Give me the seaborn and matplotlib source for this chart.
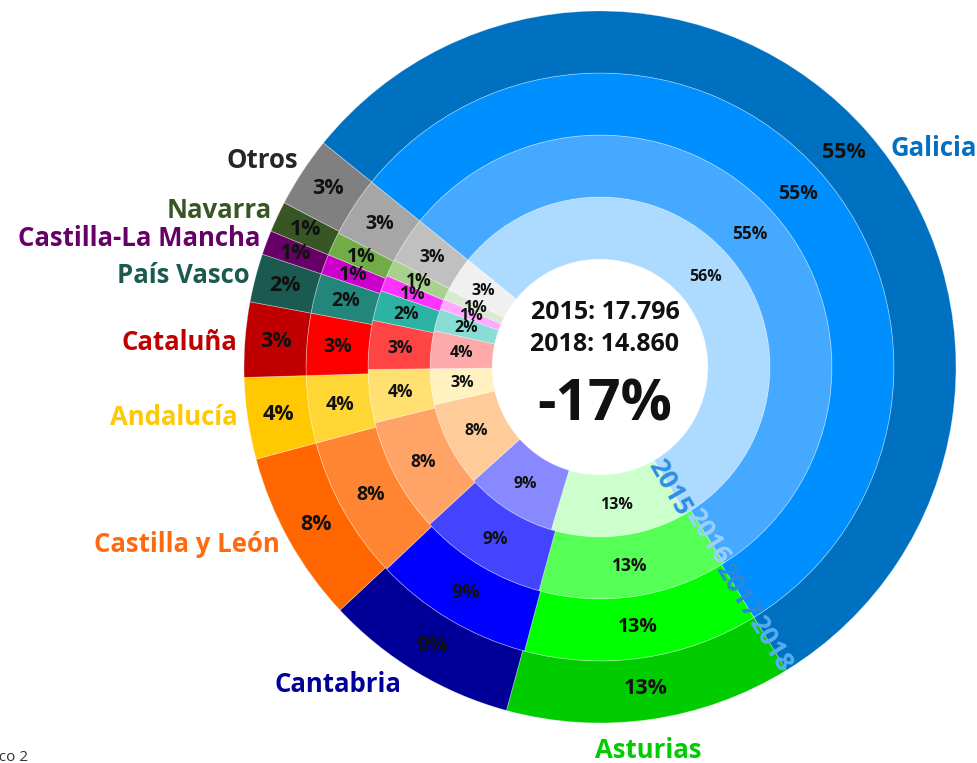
import numpy as np
import pandas as pd
import matplotlib
matplotlib.use("Agg")
import matplotlib.pyplot as plt
import seaborn as sns

# ---------------- data ----------------
categories = ["Galicia", "Asturias", "Cantabria", "Castilla y León", "Andalucía",
              "Cataluña", "País Vasco", "Castilla-La Mancha", "Navarra", "Otros"]
years = ["2015", "2016", "2017", "2018"]
share_2015 = [55.8, 13.0, 8.7, 8.1, 3.4, 3.6, 2.1, 1.0, 1.0, 3.3]
share_2016 = [55.2, 13.2, 8.9, 8.0, 3.7, 3.4, 2.1, 1.1, 1.2, 3.2]
share_2017 = [55.4, 12.9, 8.8, 7.9, 3.7, 3.4, 2.2, 1.1, 1.3, 3.3]
share_2018 = [55.4, 13.0, 8.8, 7.8, 3.7, 3.4, 2.2, 1.1, 1.4, 3.2]
total_2015 = "17.796"
total_2018 = "14.860"
change_label = "-17%"

# ---------------- styles ----------------
sns.set_theme(style="white")
plt.rcParams["font.family"] = ["Open Sans", "DejaVu Sans"]

ring_colors = {  # 2015 (inner) -> 2018 (outer)
    "Galicia":            ["#ADDBFF", "#45AAFF", "#008FFF", "#0070C0"],
    "Asturias":           ["#CCFFCC", "#55FF55", "#00FF00", "#00CC00"],
    "Cantabria":          ["#8888FF", "#4444FF", "#0000FF", "#000099"],
    "Castilla y León":    ["#FFCC99", "#FFA366", "#FF8533", "#FF6600"],
    "Andalucía":          ["#FFF2C0", "#FFE070", "#FFD633", "#FFC800"],
    "Cataluña":           ["#FFAAAA", "#FF4444", "#FF0000", "#C00000"],
    "País Vasco":         ["#88DDD5", "#2DB3A3", "#23867A", "#1A5A50"],
    "Castilla-La Mancha": ["#FFAAFF", "#FF33FF", "#CC00CC", "#660066"],
    "Navarra":            ["#D9EAD3", "#A9D18E", "#70AD47", "#375623"],
    "Otros":              ["#F0F0F0", "#C0C0C0", "#A6A6A6", "#808080"],
}
name_colors = {
    "Galicia": "#0070C0", "Asturias": "#00CC00", "Cantabria": "#000099",
    "Castilla y León": "#FF6A10", "Andalucía": "#FFC800", "Cataluña": "#C00000",
    "País Vasco": "#1A5A50", "Castilla-La Mancha": "#660066",
    "Navarra": "#375623", "Otros": "#262626",
}
# label anchor (x, y, ha) in data units (outer radius = 1)
name_pos = {
    "Galicia": (0.815, 0.615, "left"), "Asturias": (0.135, -1.076, "center"),
    "Cantabria": (-0.736, -0.893, "center"), "Castilla y León": (-0.899, -0.500, "right"),
    "Andalucía": (-1.017, -0.143, "right"), "Cataluña": (-1.020, 0.070, "right"),
    "País Vasco": (-0.983, 0.258, "right"), "Castilla-La Mancha": (-0.955, 0.360, "right"),
    "Navarra": (-0.921, 0.441, "right"), "Otros": (-0.848, 0.581, "right"),
}
year_colors = ["#2D8FE8", "#9CCFFF", "#2F86D6", "#55AEF2"]
pct_sizes = [11.5, 12.5, 14, 15.5]

hole = 0.303
ring_w = (1.0 - hole) / 4
start = 141

df = pd.DataFrame({"categoria": categories, "2015": share_2015, "2016": share_2016,
                   "2017": share_2017, "2018": share_2018})

fig = plt.figure(figsize=(9.78, 7.63), dpi=100)
ax = fig.add_axes([0, 0, 1, 1])

for i, yr in enumerate(years):
    vals = df[yr].to_numpy(dtype=float)
    r_out = hole + (i + 1) * ring_w
    cols = [ring_colors[c][i] for c in categories]
    ax.pie(vals, radius=r_out, startangle=start, counterclock=False, colors=cols,
           wedgeprops=dict(width=ring_w, edgecolor=(1, 1, 1, 0.35), linewidth=0.6))
    tot = vals.sum()
    cum = np.cumsum(vals)
    r_mid = r_out - ring_w / 2
    for v, c in zip(vals, cum):
        th = np.deg2rad(start - 360 * (c - v / 2) / tot)
        ax.text(r_mid * np.cos(th), r_mid * np.sin(th), f"{v:.0f}%",
                ha="center", va="center", fontsize=pct_sizes[i],
                fontweight="bold", color="#111111")
    th_end = start - 360 * vals[0] / tot
    ax.text(r_mid * np.cos(np.deg2rad(th_end)), r_mid * np.sin(np.deg2rad(th_end)),
            yr, rotation=th_end, rotation_mode="anchor", ha="center", va="center",
            fontsize=19, fontweight="bold", color=year_colors[i], zorder=5)

for c in categories:
    x, y, ha = name_pos[c]
    ax.text(x, y, c, ha=ha, va="center", fontsize=18.5, fontweight="bold",
            color=name_colors[c])

ax.text(0.014, 0.154, f"2015: {total_2015}", ha="center", va="center",
        fontsize=18, fontweight="bold", color="#111111")
ax.text(0.014, 0.062, f"2018: {total_2018}", ha="center", va="center",
        fontsize=18, fontweight="bold", color="#111111")
ax.text(0.014, -0.107, change_label, ha="center", va="center",
        fontsize=41, fontweight="bold", color="#111111")
ax.text(-1.607, -1.097, "Gráfico 2", ha="right", va="center", fontsize=11,
        color="#333333")

ax.set_xlim(-600 / 356, 378 / 356)
ax.set_ylim(-396 / 356, 367 / 356)
ax.set_aspect("auto")
ax.axis("off")
fig.savefig("out.png", dpi=100)
